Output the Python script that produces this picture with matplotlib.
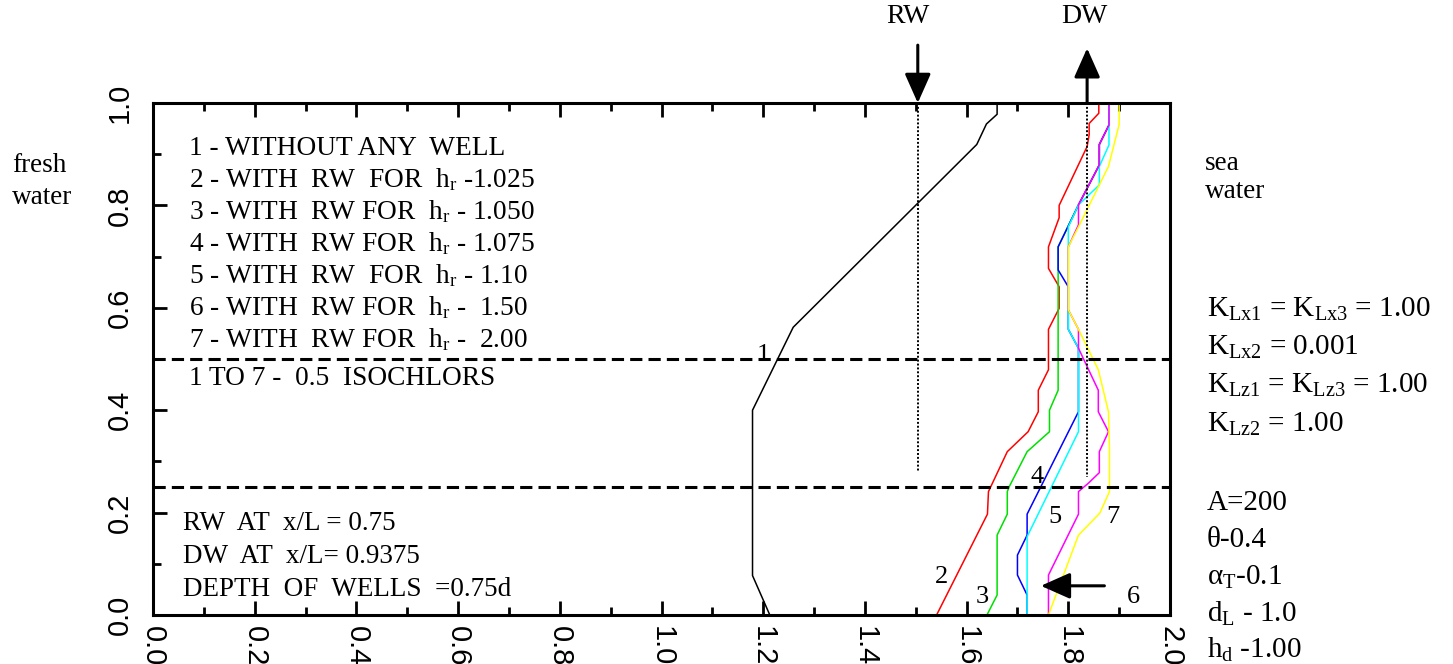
import matplotlib.pyplot as plt
from matplotlib.ticker import MultipleLocator

# isochlor curves (x = horizontal position, z = height)
x1 = [1.660, 1.660, 1.639, 1.620, 1.259, 1.179, 1.179, 1.213]
z1 = [1.000, 0.978, 0.959, 0.919, 0.562, 0.400, 0.077, 0.000]

x2 = [1.860, 1.860, 1.841, 1.841, 1.837, 1.782, 1.782, 1.761, 1.761, 1.782, 1.782,
      1.761, 1.761, 1.741, 1.741, 1.721, 1.680, 1.643, 1.641, 1.541]
z2 = [1.000, 0.980, 0.960, 0.938, 0.915, 0.800, 0.776, 0.719, 0.677, 0.641, 0.599,
      0.558, 0.479, 0.439, 0.397, 0.358, 0.319, 0.241, 0.197, 0.000]

x3 = [1.880, 1.880, 1.861, 1.861, 1.820, 1.780, 1.780, 1.763, 1.763, 1.719,
      1.684, 1.680, 1.680, 1.660, 1.660, 1.640]
z3 = [1.000, 0.957, 0.919, 0.879, 0.801, 0.719, 0.439, 0.400, 0.358, 0.319,
      0.251, 0.241, 0.197, 0.156, 0.039, 0.000]

x4 = [1.880, 1.880, 1.861, 1.861, 1.820, 1.780, 1.780, 1.800, 1.800, 1.820, 1.820,
      1.719, 1.719, 1.700, 1.700, 1.719, 1.719]
z4 = [1.000, 0.957, 0.919, 0.879, 0.801, 0.719, 0.674, 0.641, 0.558, 0.521, 0.397,
      0.197, 0.156, 0.117, 0.078, 0.039, 0.000]

x5 = [1.880, 1.880, 1.861, 1.861, 1.820, 1.800, 1.800, 1.820, 1.820, 1.719, 1.719]
z5 = [1.000, 0.918, 0.876, 0.840, 0.801, 0.758, 0.558, 0.521, 0.358, 0.153, 0.000]

x6 = [1.880, 1.880, 1.861, 1.861, 1.820, 1.820, 1.800, 1.800, 1.820, 1.820, 1.859,
      1.859, 1.879, 1.861, 1.861, 1.839, 1.820, 1.820, 1.761, 1.761]
z6 = [1.000, 0.957, 0.919, 0.879, 0.801, 0.762, 0.719, 0.596, 0.558, 0.521, 0.439,
      0.397, 0.358, 0.319, 0.278, 0.257, 0.241, 0.197, 0.078, 0.000]

x7 = [1.900, 1.900, 1.879, 1.820, 1.800, 1.800, 1.820, 1.859, 1.879, 1.881,
      1.881, 1.862, 1.820, 1.761]
z7 = [1.000, 0.958, 0.876, 0.758, 0.719, 0.596, 0.558, 0.479, 0.397, 0.322,
      0.241, 0.199, 0.156, 0.000]

curves = [(x1, z1, 'black'), (x2, z2, 'red'), (x3, z3, '#00e000'), (x4, z4, 'blue'),
          (x5, z5, 'cyan'), (x6, z6, 'magenta'), (x7, z7, 'yellow')]

curve_labels = ['1', '2', '3', '4', '5', '6', '7']
label_x = [1.200, 1.551, 1.630, 1.739, 1.774, 1.928, 1.887]
label_z = [0.508, 0.075, 0.036, 0.270, 0.192, 0.036, 0.191]

rw_x = 1.504
dw_x = 1.837
well_bottom = [0.279, 0.270]
isochlor_levels = [0.5, 0.25]

legend_lines = ['1 - WITHOUT ANY  WELL',
                r'2 - WITH  RW  FOR  h$_\mathrm{r}$ -1.025',
                r'3 - WITH  RW FOR  h$_\mathrm{r}$ - 1.050',
                r'4 - WITH  RW FOR  h$_\mathrm{r}$ - 1.075',
                r'5 - WITH  RW  FOR  h$_\mathrm{r}$ - 1.10',
                r'6 - WITH  RW FOR  h$_\mathrm{r}$ -  1.50',
                r'7 - WITH  RW FOR  h$_\mathrm{r}$ -  2.00',
                '1 TO 7 -  0.5  ISOCHLORS']
well_lines = ['RW  AT  x/L = 0.75', 'DW  AT  x/L= 0.9375', 'DEPTH  OF  WELLS  =0.75d']
param_lines = [r'K$_\mathrm{Lx1}$ = K$_\mathrm{Lx3}$ = 1.00',
               r'K$_\mathrm{Lx2}$ = 0.001',
               r'K$_\mathrm{Lz1}$ = K$_\mathrm{Lz3}$ = 1.00',
               r'K$_\mathrm{Lz2}$ = 1.00',
               'A=200', 'θ-0.4', r'α$_\mathrm{T}$-0.1',
               r'd$_\mathrm{L}$ - 1.0', r'h$_\mathrm{d}$ -1.00']

plt.rcParams['font.family'] = 'Liberation Serif'
plt.rcParams['mathtext.fontset'] = 'custom'
plt.rcParams['mathtext.rm'] = 'Liberation Serif'
plt.rcParams['mathtext.it'] = 'Liberation Serif:italic'

W, H = 1453, 664
fig = plt.figure(figsize=(W / 100, H / 100), dpi=100)
ax = fig.add_axes([153 / W, 1 - 615 / H, (1170 - 153) / W, (615 - 103) / H])

for xs, zs, c in curves:
    ax.plot(xs, zs, color=c, lw=1.1)

for i, t in enumerate(curve_labels):
    ax.text(label_x[i], label_z[i], t, fontsize=19, ha='center', va='center')

for lvl in isochlor_levels:
    ax.axhline(lvl, color='black', lw=2.2, ls=(0, (4, 2)))

ax.plot([rw_x, rw_x], [1.0, well_bottom[0]], color='black', lw=1.4, ls=(0, (1, 1)))
ax.plot([dw_x, dw_x], [1.0, well_bottom[1]], color='black', lw=1.4, ls=(0, (1, 1)))

arrow = dict(arrowstyle='-|>,head_length=0.9,head_width=0.4', lw=2.2, color='black',
             mutation_scale=20, shrinkA=0, shrinkB=0)
ax.annotate('', xy=(rw_x, 1.0), xytext=(rw_x, 1.113), arrowprops=arrow, annotation_clip=False)
ax.annotate('', xy=(dw_x, 1.107), xytext=(dw_x, 1.0), arrowprops=arrow, annotation_clip=False)
ax.annotate('', xy=(1.746, 0.057), xytext=(1.871, 0.057), arrowprops=arrow, annotation_clip=False)
ax.text(rw_x - 0.02, 1.157, 'RW', fontsize=20, ha='center', va='baseline')
ax.text(dw_x - 0.005, 1.157, 'DW', fontsize=20, ha='center', va='baseline')

ax.set_xlim(0, 2)
ax.set_ylim(0, 1)
ax.xaxis.set_major_locator(MultipleLocator(0.2))
ax.xaxis.set_minor_locator(MultipleLocator(0.1))
ax.yaxis.set_major_locator(MultipleLocator(0.2))
ax.yaxis.set_minor_locator(MultipleLocator(0.1))
ax.tick_params(which='both', direction='in', top=True, right=False, width=2)
ax.tick_params(which='major', length=10)
ax.tick_params(which='minor', length=5.5)
ax.tick_params(axis='x', pad=8)
ax.tick_params(axis='y', pad=14)
for s in ax.spines.values():
    s.set_linewidth(2.2)
for lab in ax.get_xticklabels():
    lab.set_rotation(-90)
    lab.set_fontfamily('Liberation Sans')
    lab.set_fontsize(21)
for lab in ax.get_yticklabels():
    lab.set_rotation(90)
    lab.set_fontfamily('Liberation Sans')
    lab.set_fontsize(21)
    lab.set_va('center')

for i, t in enumerate(legend_lines):
    fig.text(189 / W, 1 - (155 + 32 * i + (6 if i == 7 else 0)) / H, t, fontsize=19.7, va='baseline')
for i, t in enumerate(well_lines):
    fig.text(183 / W, 1 - (530 + 33 * i) / H, t, fontsize=19.5, va='baseline')
param_base = [317, 355, 393, 432, 510, 547, 585, 622, 658]
for b, t in zip(param_base, param_lines):
    fig.text(1207 / W, 1 - b / H, t, fontsize=21, va='baseline')

fig.text(12 / W, 1 - 172 / H, 'fresh', fontsize=19.5, va='baseline')
fig.text(12 / W, 1 - 204 / H, 'water', fontsize=19.5, va='baseline')
fig.text(1205 / W, 1 - 170 / H, 'sea', fontsize=19.5, va='baseline')
fig.text(1205 / W, 1 - 198 / H, 'water', fontsize=19.5, va='baseline')

fig.savefig('out.png', dpi=100)
